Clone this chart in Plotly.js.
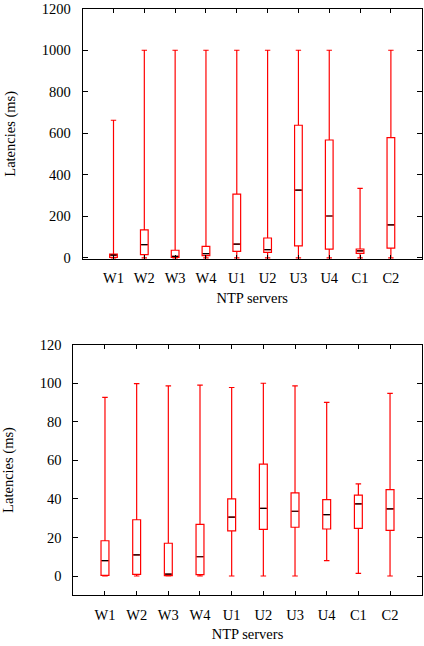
<!DOCTYPE html>
<html>
<head>
<meta charset="utf-8">
<script src="https://cdn.plot.ly/plotly-3.0.1.min.js"></script>
<style>html,body{margin:0;padding:0;background:#fff;}#chart{width:424px;height:646px;}</style>
</head>
<body>
<div id="chart"></div>
<script>
var servers = ['W1','W2','W3','W4','U1','U2','U3','U4','C1','C2'];

// Top panel (latencies, ms)
var topMin = [0, 0, 0, 0, 0, 0, 0, 0, 0, 0];
var topQ1  = [3, 16, 3, 11, 32, 27, 58, 42, 22, 47];
var topMed = [14, 64, 8, 21, 67, 40, 327, 202, 34, 159];
var topQ3  = [18, 135, 37, 56, 307, 96, 639, 568, 43, 579];
var topMax = [663, 1000, 1000, 1000, 1000, 1000, 1000, 1000, 335, 1000];

// Bottom panel (latencies, ms)
var botMin = [0, 0, 0, 0, 0, 0, 0, 8, 1.4, 0];
var botQ1  = [0.3, 0.9, 0.2, 0.7, 23.4, 24.2, 25.3, 24.4, 24.7, 23.7];
var botMed = [8, 11, 1, 10, 30.6, 35.1, 33.6, 31.8, 37.4, 34.8];
var botQ3  = [18.3, 29.2, 17, 26.8, 40, 58, 43.1, 39.6, 42, 44.8];
var botMax = [92.7, 99.8, 98.6, 99, 97.8, 100, 98.6, 90.1, 47.8, 94.8];

var RED = 'rgb(255,0,0)';
var FONT = 'Liberation Serif, Times New Roman, serif';

function boxTrace(xa, ya, lo, q1, med, q3, hi) {
  return {
    type: 'box', xaxis: xa, yaxis: ya, x: servers,
    lowerfence: lo, q1: q1, median: med, q3: q3, upperfence: hi,
    boxpoints: false, width: 0.25, whiskerwidth: 0.7,
    line: {color: RED, width: 1.2}, fillcolor: 'rgba(0,0,0,0)',
    showlegend: false, hoverinfo: 'skip'
  };
}
function medTrace(xa, ya, med) {
  return {
    type: 'box', xaxis: xa, yaxis: ya, x: servers,
    lowerfence: med, q1: med, median: med, q3: med, upperfence: med,
    boxpoints: false, width: 0.2, whiskerwidth: 0,
    line: {color: '#000', width: 1.2}, fillcolor: 'rgba(0,0,0,0)',
    showlegend: false, hoverinfo: 'skip'
  };
}

var data = [
  boxTrace('x', 'y', topMin, topQ1, topMed, topQ3, topMax),
  medTrace('x', 'y', topMed),
  boxTrace('x2', 'y2', botMin, botQ1, botMed, botQ3, botMax),
  medTrace('x2', 'y2', botMed)
];

function xax(dom, anchor) {
  return {
    domain: dom, anchor: anchor, type: 'category', range: [-1, 10],
    showline: true, mirror: 'ticks', linecolor: '#000', linewidth: 1,
    ticks: 'inside', ticklen: 4, tickcolor: '#000', showgrid: false, zeroline: false,
    tickfont: {family: FONT, size: 14.5, color: '#000'}, ticklabelstandoff: 6,
    title: {text: 'NTP servers', font: {family: FONT, size: 14.5, color: '#000'}, standoff: 7},
    automargin: false, fixedrange: true
  };
}
function yax(dom, anchor, rng, dt) {
  return {
    domain: dom, anchor: anchor, range: rng, dtick: dt, tick0: 0,
    showline: true, mirror: 'ticks', linecolor: '#000', linewidth: 1,
    ticks: 'inside', ticklen: 5, tickcolor: '#000', showgrid: false, zeroline: false,
    tickfont: {family: FONT, size: 14.5, color: '#000'}, ticklabelstandoff: 8,
    title: {text: 'Latencies (ms)', font: {family: FONT, size: 14.5, color: '#000'}, standoff: 22},
    automargin: false, fixedrange: true
  };
}

var layout = {
  width: 424, height: 646,
  margin: {l: 0, r: 0, t: 0, b: 0},
  paper_bgcolor: '#fff', plot_bgcolor: '#fff',
  boxmode: 'overlay',
  showlegend: false,
  xaxis: xax([0.1950, 0.9946], 'y'),
  yaxis: yax([0.5991, 0.9865], 'x', [-5, 1200], 200),
  xaxis2: xax([0.1729, 0.9946], 'y2'),
  yaxis2: yax([0.0785, 0.4664], 'x2', [-10, 120], 20)
};

Plotly.newPlot('chart', data, layout, {displayModeBar: false, staticPlot: true});
</script>
</body>
</html>
